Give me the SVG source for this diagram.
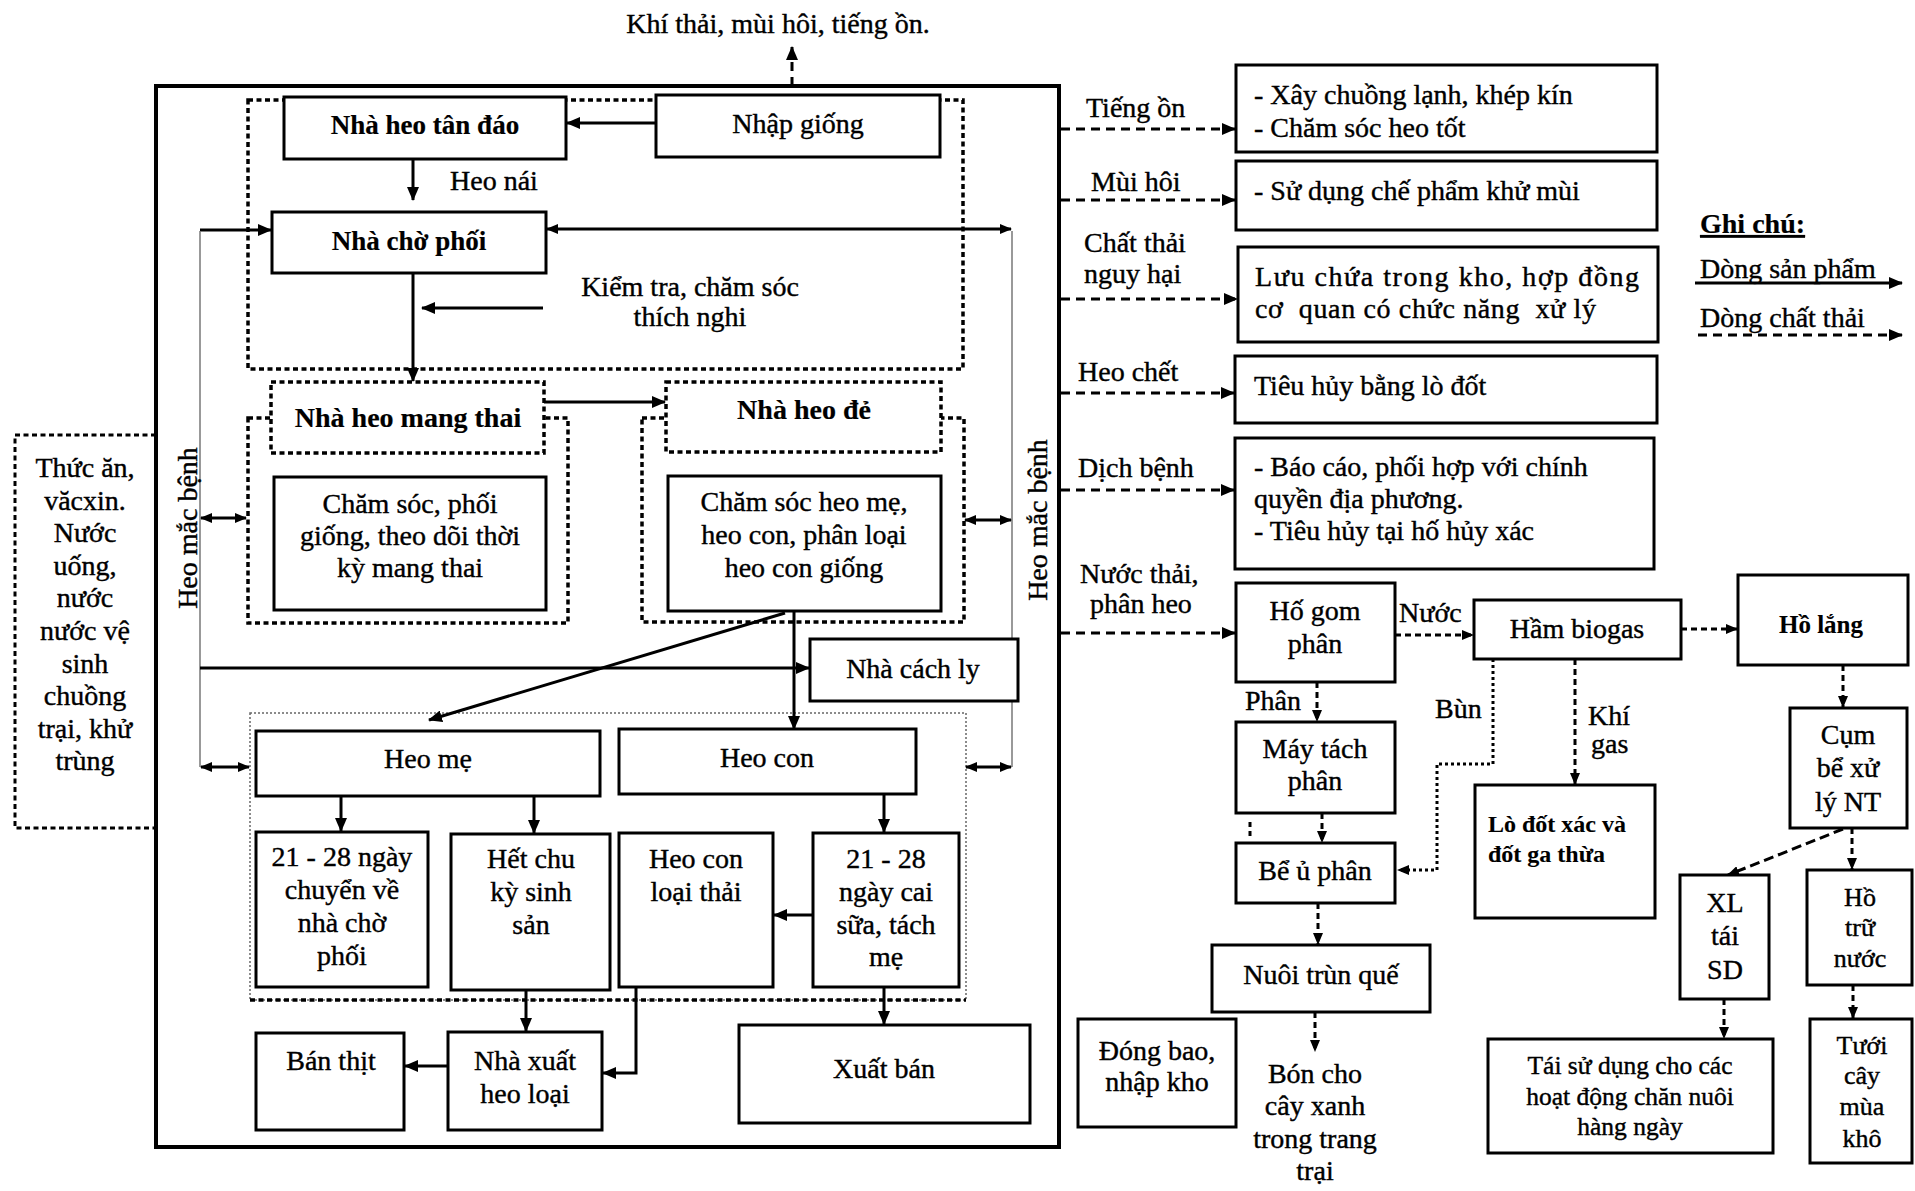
<svg xmlns="http://www.w3.org/2000/svg" width="1915" height="1191" viewBox="0 0 1915 1191">
<defs>
<marker id="ah" viewBox="0 0 14 12" markerUnits="userSpaceOnUse" markerWidth="14" markerHeight="12" refX="13" refY="6" orient="auto-start-reverse"><path d="M0,0 L14,6 L0,12 z" fill="#000" stroke="none"/></marker>
<marker id="ahs" viewBox="0 0 12 10" markerUnits="userSpaceOnUse" markerWidth="12" markerHeight="10" refX="11" refY="5" orient="auto-start-reverse"><path d="M0,0 L12,5 L0,10 z" fill="#000" stroke="none"/></marker>
<style>
text{font-family:"Liberation Serif","Times New Roman",serif;font-size:28px;fill:#000;stroke:#000;stroke-width:0.4}
.c{text-anchor:middle}
.b{font-weight:bold;font-size:27px;stroke-width:0.2}
.bs{font-weight:bold;font-size:24px;stroke-width:0.1}
.rs{font-size:25.5px}
.box{fill:#fff;stroke:#000;stroke-width:3}
.dbox{fill:#fff;stroke:#000;stroke-width:3.5;stroke-dasharray:5 3.5}
.dboxn{fill:none;stroke:#000;stroke-width:3.5;stroke-dasharray:5 3.5}
.thinbox{fill:none;stroke:#666;stroke-width:1.5;stroke-dasharray:2 2}
.ln{fill:none;stroke:#000;stroke-width:3}
.ar{fill:none;stroke:#000;stroke-width:3;marker-end:url(#ah)}
.dar{fill:none;stroke:#000;stroke-width:3;stroke-dasharray:9 6;marker-end:url(#ah)}
.dars{fill:none;stroke:#000;stroke-width:3;stroke-dasharray:6 4;marker-end:url(#ahs)}
.dot{fill:none;stroke:#000;stroke-width:3;stroke-dasharray:3 3}
.thin{fill:none;stroke:#777;stroke-width:1.5}
.dbl{fill:none;stroke:#000;stroke-width:3;marker-start:url(#ahs);marker-end:url(#ahs)}
</style>
</defs>
<rect width="1915" height="1191" fill="#fff"/>

<!-- title and outer box -->
<g id="title"><text class="c" x="778" y="33">Khí thải, mùi hôi, tiếng ồn.</text></g>
<g id="farm"><rect x="156" y="86" width="903" height="1061" fill="none" stroke="#000" stroke-width="4"/></g>

<!-- group containers -->
<g id="group-top"><rect class="dboxn" x="248" y="100" width="715" height="269"/></g>
<g id="group-mangthai-outer"><rect class="dboxn" x="248" y="418" width="320" height="205"/></g>
<g id="group-de-outer"><rect class="dboxn" x="642" y="418" width="322" height="204"/></g>
<g id="group-lower"><rect class="thinbox" x="250" y="713" width="716" height="287"/><line x1="250" y1="1000" x2="966" y2="1000" stroke="#000" stroke-width="3.5" stroke-dasharray="5 3.5"/></g>

<!-- connectors -->
<g id="connectors">
<path class="dar" d="M792,86 V47"/>
<path class="ar" d="M656,123 H567"/>
<path class="ar" d="M413,159 V200"/>
<path class="ar" d="M200,230 H271"/>
<path class="dbl" d="M547,229 H1011"/>
<path class="ar" d="M413,273 V381"/>
<path class="ar" d="M543,308 H422"/>
<path class="ar" d="M544,402 H665"/>
<path class="thin" d="M200,231 V767"/>
<path class="thin" d="M1012,231 V767"/>
<path class="dbl" d="M201,518 H246"/>
<path class="dbl" d="M965,520 H1011"/>
<path class="ar" d="M200,668 H809"/>
<path class="ar" d="M785,613 L429,720"/>
<path class="ar" d="M794,612 V729"/>
<path class="dbl" d="M201,767 H249"/>
<path class="dbl" d="M966,767 H1011"/>
<path class="ar" d="M341,796 V831"/>
<path class="ar" d="M534,796 V833"/>
<path class="ar" d="M884,794 V832"/>
<path class="ar" d="M813,915 H774"/>
<path class="ar" d="M526,990 V1031"/>
<path class="ar" d="M636,987 V1073 H603"/>
<path class="ar" d="M884,987 V1024"/>
<path class="ar" d="M448,1066 H405"/>
<path class="dar" d="M1061,129 H1235"/>
<path class="dar" d="M1061,200 H1235"/>
<path class="dar" d="M1061,299 H1237"/>
<path class="dar" d="M1061,393 H1234"/>
<path class="dar" d="M1061,490 H1234"/>
<path class="dar" d="M1061,633 H1235"/>
<path class="dars" d="M1395,635 H1473"/>
<path class="dars" d="M1681,629 H1737"/>
<path class="dars" d="M1843,665 V707"/>
<path class="dars" d="M1843,829 L1728,875" style="stroke-dasharray:10 5"/>
<path class="dars" d="M1852,828 V869"/>
<path class="dars" d="M1724,999 V1038"/>
<path class="dars" d="M1853,985 V1018"/>
<path class="dars" d="M1317,682 V721"/>
<path d="M1250,822 V838" fill="none" stroke="#000" stroke-width="3" stroke-dasharray="5 4"/>
<path class="dars" d="M1322,813 V842"/>
<path class="dot" d="M1493,659 V764 H1437 V870 H1398"/>
<path d="M1397,870 l12,-5 v10 z" fill="#000"/>
<path class="dars" d="M1575,659 V784"/>
<path class="dars" d="M1318,903 V944"/>
<path class="dars" d="M1315,1012 V1051"/>
<path class="ar" d="M1695,283 H1902"/>
<path class="dar" d="M1698,335 H1902"/>
</g>

<!-- top area nodes -->
<g id="n-tandao"><rect class="box" x="284" y="97" width="282" height="62"/><text class="c b" x="425" y="134">Nhà heo tân đáo</text></g>
<g id="n-nhapgiong"><rect class="box" x="656" y="95" width="284" height="62"/><text class="c" x="798" y="133">Nhập giống</text></g>
<g id="l-heonai"><text x="450" y="190">Heo nái</text></g>
<g id="n-chophoi"><rect class="box" x="272" y="212" width="274" height="61"/><text class="c b" x="409" y="250">Nhà chờ phối</text></g>
<g id="l-kiemtra"><text class="c" x="690" y="296">Kiểm tra, chăm sóc</text><text class="c" x="690" y="326">thích nghi</text></g>

<g id="n-mangthai"><rect class="dbox" x="271" y="382" width="273" height="71"/><text class="c b" x="408" y="427" style="font-size:28px">Nhà heo mang thai</text></g>
<g id="n-chamsoc1"><rect class="box" x="274" y="477" width="272" height="133"/><text class="c" x="410" y="513">Chăm sóc, phối</text><text class="c" x="410" y="545">giống, theo dõi thời</text><text class="c" x="410" y="577">kỳ mang thai</text></g>
<g id="n-heode"><rect class="dbox" x="666" y="382" width="275" height="70"/><text class="c b" x="804" y="419" style="font-size:28px">Nhà heo đẻ</text></g>
<g id="n-chamsoc2"><rect class="box" x="668" y="476" width="273" height="135"/><text class="c" x="804" y="511">Chăm sóc heo mẹ,</text><text class="c" x="804" y="544">heo con, phân loại</text><text class="c" x="804" y="577">heo con giống</text></g>

<g id="l-macbenh-left"><text class="c" transform="translate(197,528) rotate(-90)">Heo mắc bệnh</text></g>
<g id="l-macbenh-right"><text class="c" transform="translate(1047,520) rotate(-90)">Heo mắc bệnh</text></g>

<g id="n-cachly"><rect class="box" x="810" y="639" width="208" height="62"/><text class="c" x="913" y="678">Nhà cách ly</text></g>

<g id="n-heome"><rect class="box" x="256" y="731" width="344" height="65"/><text class="c" x="428" y="768">Heo mẹ</text></g>
<g id="n-heocon"><rect class="box" x="619" y="729" width="297" height="65"/><text class="c" x="767" y="767">Heo con</text></g>

<g id="n-2128a"><rect class="box" x="256" y="832" width="172" height="155"/><text class="c" x="342" y="866">21 - 28 ngày</text><text class="c" x="342" y="899">chuyển về</text><text class="c" x="342" y="932">nhà chờ</text><text class="c" x="342" y="965">phối</text></g>
<g id="n-hetchu"><rect class="box" x="451" y="834" width="159" height="156"/><text class="c" x="531" y="868">Hết chu</text><text class="c" x="531" y="901">kỳ sinh</text><text class="c" x="531" y="934">sản</text></g>
<g id="n-loaithai"><rect class="box" x="619" y="833" width="154" height="154"/><text class="c" x="696" y="868">Heo con</text><text class="c" x="696" y="901">loại thải</text></g>
<g id="n-2128b"><rect class="box" x="813" y="833" width="146" height="154"/><text class="c" x="886" y="868">21 - 28</text><text class="c" x="886" y="901">ngày cai</text><text class="c" x="886" y="934">sữa, tách</text><text class="c" x="886" y="966">mẹ</text></g>

<g id="n-banthit"><rect class="box" x="256" y="1033" width="148" height="97"/><text class="c" x="331" y="1070">Bán thịt</text></g>
<g id="n-nhaxuat"><rect class="box" x="448" y="1032" width="154" height="98"/><text class="c" x="525" y="1070">Nhà xuất</text><text class="c" x="525" y="1103">heo loại</text></g>
<g id="n-xuatban"><rect class="box" x="739" y="1025" width="291" height="98"/><text class="c" x="884" y="1078">Xuất bán</text></g>

<g id="n-thucan"><path d="M156,435 H15 V828 H156" fill="none" stroke="#000" stroke-width="3" stroke-dasharray="5 3.5"/>
<text class="c" x="85" y="477">Thức ăn,</text><text class="c" x="85" y="510">văcxin.</text><text class="c" x="85" y="542">Nước</text><text class="c" x="85" y="575">uống,</text><text class="c" x="85" y="607">nước</text><text class="c" x="85" y="640">nước vệ</text><text class="c" x="85" y="673">sinh</text><text class="c" x="85" y="705">chuồng</text><text class="c" x="85" y="738">trại, khử</text><text class="c" x="85" y="770">trùng</text></g>

<!-- right side labels -->
<g id="labels-right">
<text x="1086" y="117">Tiếng ồn</text>
<text x="1091" y="191">Mùi hôi</text>
<text x="1084" y="252">Chất thải</text>
<text x="1084" y="283">nguy hại</text>
<text x="1078" y="381">Heo chết</text>
<text x="1078" y="477">Dịch bệnh</text>
<text x="1080" y="583">Nước thải,</text>
<text x="1090" y="613">phân heo</text>
</g>

<g id="n-tiengon"><rect class="box" x="1236" y="65" width="421" height="87"/><text x="1254" y="104">- Xây chuồng lạnh, khép kín</text><text x="1254" y="137">- Chăm sóc heo tốt</text></g>
<g id="n-muihoi"><rect class="box" x="1236" y="161" width="421" height="69"/><text x="1254" y="200">- Sử dụng chế phẩm khử mùi</text></g>
<g id="n-chatthai"><rect class="box" x="1238" y="247" width="420" height="95"/><text x="1255" y="286" textLength="384" lengthAdjust="spacing">Lưu chứa trong kho, hợp đồng</text><text x="1255" y="318" textLength="341" lengthAdjust="spacing" style="white-space:pre">cơ  quan có chức năng  xử lý</text></g>
<g id="n-heochet"><rect class="box" x="1235" y="356" width="422" height="67"/><text x="1254" y="395">Tiêu hủy bằng lò đốt</text></g>
<g id="n-dichbenh"><rect class="box" x="1235" y="438" width="419" height="131"/><text x="1254" y="476">- Báo cáo, phối hợp với chính</text><text x="1254" y="508">quyền địa phương.</text><text x="1254" y="540">- Tiêu hủy tại hố hủy xác</text></g>

<g id="legend">
<text x="1700" y="233" style="font-weight:bold;text-decoration:underline;stroke-width:0.2">Ghi chú:</text>
<text x="1700" y="278">Dòng sản phẩm</text>
<text x="1700" y="327">Dòng chất thải</text>
</g>

<!-- wastewater chain -->
<g id="n-hogom"><rect class="box" x="1236" y="583" width="159" height="99"/><text class="c" x="1315" y="620">Hố gom</text><text class="c" x="1315" y="653">phân</text></g>
<g id="l-nuoc"><text x="1399" y="622">Nước</text></g>
<g id="n-biogas"><rect class="box" x="1474" y="600" width="207" height="59"/><text class="c" x="1577" y="638">Hầm biogas</text></g>
<g id="n-holang"><rect class="box" x="1738" y="575" width="170" height="90"/><text class="c" x="1821" y="633" style="font-weight:bold;font-size:25px;stroke-width:0.1">Hồ lắng</text></g>
<g id="n-cum"><rect class="box" x="1790" y="708" width="117" height="120"/><text class="c" x="1848" y="744">Cụm</text><text class="c" x="1848" y="777">bể xử</text><text class="c" x="1848" y="811">lý NT</text></g>
<g id="n-xl"><rect class="box" x="1680" y="875" width="89" height="124"/><text class="c" x="1725" y="912">XL</text><text class="c" x="1725" y="945">tái</text><text class="c" x="1725" y="979">SD</text></g>
<g id="n-hotru"><rect class="box" x="1807" y="870" width="105" height="115"/><text class="c" x="1860" y="906" style="font-size:26px">Hồ</text><text class="c" x="1860" y="936" style="font-size:26px">trữ</text><text class="c" x="1860" y="967" style="font-size:26px">nước</text></g>
<g id="n-taisudung"><rect class="box" x="1488" y="1039" width="285" height="114"/><text class="c rs" x="1630" y="1074">Tái sử dụng cho các</text><text class="c rs" x="1630" y="1105">hoạt động chăn nuôi</text><text class="c rs" x="1630" y="1135">hàng ngày</text></g>
<g id="n-tuoi"><rect class="box" x="1810" y="1019" width="102" height="144"/><text class="c" x="1862" y="1054" style="font-size:26px">Tưới</text><text class="c" x="1862" y="1084" style="font-size:26px">cây</text><text class="c" x="1862" y="1115" style="font-size:26px">mùa</text><text class="c" x="1862" y="1147" style="font-size:26px">khô</text></g>
<g id="l-phan"><text x="1245" y="710">Phân</text></g>
<g id="n-maytach"><rect class="box" x="1236" y="722" width="159" height="91"/><text class="c" x="1315" y="758">Máy tách</text><text class="c" x="1315" y="790">phân</text></g>
<g id="n-beu"><rect class="box" x="1236" y="843" width="159" height="60"/><text class="c" x="1315" y="880">Bể ủ phân</text></g>
<g id="l-bun"><text x="1435" y="718">Bùn</text></g>
<g id="l-khigas"><text x="1588" y="725">Khí</text><text x="1591" y="753">gas</text></g>
<g id="n-lodot"><rect class="box" x="1475" y="785" width="180" height="133"/><text class="bs" x="1488" y="832">Lò đốt xác và</text><text class="bs" x="1488" y="862">đốt ga thừa</text></g>
<g id="n-nuoitrun"><rect class="box" x="1212" y="945" width="218" height="67"/><text class="c" x="1321" y="984">Nuôi trùn quế</text></g>
<g id="l-bon"><text class="c" x="1315" y="1083">Bón cho</text><text class="c" x="1315" y="1115">cây xanh</text><text class="c" x="1315" y="1148">trong trang</text><text class="c" x="1315" y="1180">trại</text></g>
<g id="n-dongbao"><rect class="box" x="1078" y="1019" width="158" height="108"/><text class="c" x="1157" y="1060">Đóng bao,</text><text class="c" x="1157" y="1091">nhập kho</text></g>
</svg>
